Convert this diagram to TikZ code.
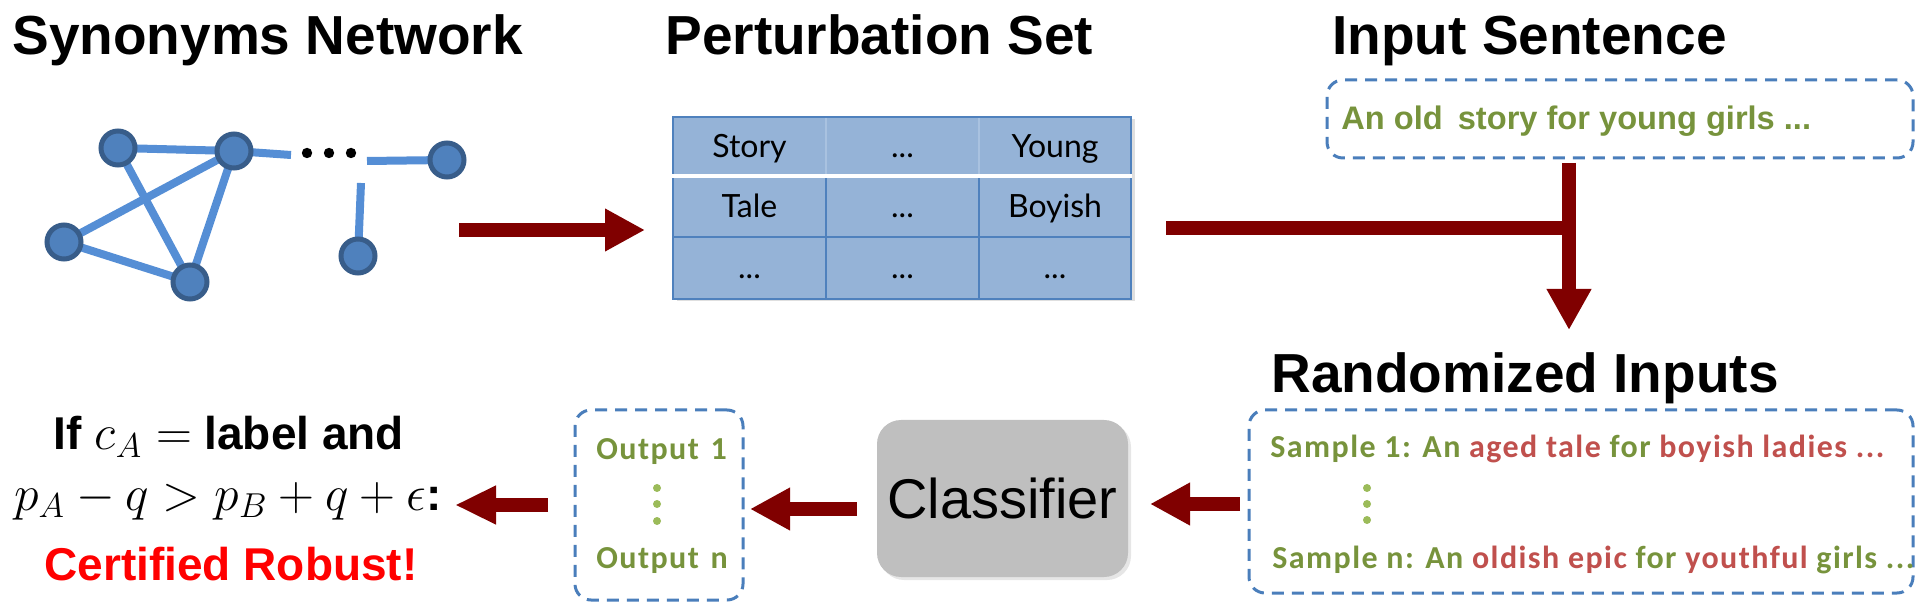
\documentclass[tikz,border=0pt]{standalone}
\usepackage{fontspec}
\setmainfont{Liberation Sans}
\newfontfamily\calfont[LetterSpace=4.5]{Carlito}
\newfontfamily\tabfont{Lato}
\usetikzlibrary{arrows.meta,shadows}
\definecolor{nfill}{HTML}{4F81BD}
\definecolor{nbord}{HTML}{385D8A}
\definecolor{nedge}{HTML}{558ED5}
\definecolor{tfill}{HTML}{95B3D7}
\definecolor{tline}{HTML}{4F81BD}
\definecolor{tfaint}{HTML}{A9C2E0}
\definecolor{dblue}{HTML}{4A7EBB}
\definecolor{tgreen}{HTML}{77933C}
\definecolor{tred}{HTML}{C0504D}
\definecolor{lgreen}{HTML}{9BBB59}
\definecolor{darr}{HTML}{800000}
\definecolor{cgray}{HTML}{BFBFBF}
\definecolor{cred}{HTML}{FF0000}
\newcommand{\myfs}[1]{\fontsize{#1}{#1}\selectfont}
\pgfdeclarelayer{bg}
\pgfsetlayers{bg,main}
\begin{document}
\begin{tikzpicture}[x=0.5pt,y=-0.5pt,
  title/.style={font=\myfs{27.5}\bfseries, inner sep=0pt, anchor=base west},
  gnode/.style={circle, fill=nfill, draw=nbord, line width=2.5pt, minimum size=17pt, inner sep=0pt},
  gedge/.style={nedge, line width=4pt},
  gdot/.style={circle, fill=black, minimum size=5.2pt, inner sep=0pt},
  cell/.style={font=\tabfont\myfs{16}, anchor=base, inner sep=0pt},
  dbox/.style={draw=dblue, dash pattern=on 6pt off 4pt, line width=1.5pt, rounded corners=8pt, inner sep=0pt},
  stxt/.style={font=\calfont\bfseries\myfs{16}, anchor=base west, inner sep=0pt, text=tgreen},
  vdot/.style={circle, fill=lgreen, minimum size=4pt, inner sep=0pt},
  bigline/.style={darr, line width=7pt},
  bigarrow/.style={darr, line width=7pt, -{Triangle[length=20pt,width=20pt]}},
  ftxt/.style={font=\myfs{23}\bfseries, inner sep=0pt, anchor=base}
]
\useasboundingbox (0,0) rectangle (1931,608);

% titles
\node[title] (t1) at (12,55) {Synonyms Network};
\node[title] (t2) at (665,55) {Perturbation Set};
\node[title] (t3) at (1332,55) {Input Sentence};
\node[title] (t4) at (1271,393) {Randomized Inputs};

% network
\node[gnode] (A) at (118,148) {};
\node[gnode] (B) at (234,151) {};
\node[gnode] (C) at (64,242) {};
\node[gnode] (D) at (190,282) {};
\node[gnode] (E) at (358,256) {};
\node[gnode] (F) at (447,160) {};
\coordinate (s1) at (291,155);
\coordinate (s2) at (367,161);
\coordinate (s3) at (361,183);
\node[gdot] (d1) at (307,153) {};
\node[gdot] (d2) at (329,153) {};
\node[gdot] (d3) at (351,153) {};
\begin{pgfonlayer}{bg}
\draw[gedge] (A.center) -- (B.center);
\draw[gedge] (A.center) -- (D.center);
\draw[gedge] (B.center) -- (C.center);
\draw[gedge] (B.center) -- (D.center);
\draw[gedge] (C.center) -- (D.center);
\draw[gedge] (B.center) -- (s1);
\draw[gedge] (s2) -- (F.center);
\draw[gedge] (E.center) -- (s3);
\end{pgfonlayer}

% arrow 1
\coordinate (a1s) at (459,230);
\coordinate (a1e) at (645,230);
\draw[bigarrow] (a1s) -- (a1e);

% table
\node[fill=tfill, draw=tline, line width=1pt, minimum width=229pt, minimum height=91pt, inner sep=0pt,
      drop shadow={opacity=0.25, shadow xshift=2pt, shadow yshift=-1pt}] (tbl) at (902,208) {};
\draw[tfaint, line width=0.6pt] (826,118) -- (826,175);
\draw[tfaint, line width=0.6pt] (979,118) -- (979,175);
\draw[tline, line width=1pt] (826,178) -- (826,298);
\draw[tline, line width=1pt] (979,178) -- (979,298);
\draw[tline, line width=1pt] (tbl.west |- 0,237) -- (tbl.east |- 0,237);
\draw[white, line width=2.2pt] (tbl.west |- 0,176) -- (tbl.east |- 0,176);
\node[cell] (c11) at (749.5,158) {Story};
\node[cell] (c12) at (902.5,158) {...};
\node[cell] (c13) at (1055,158) {Young};
\node[cell] (c21) at (749.5,218) {Tale};
\node[cell] (c22) at (902.5,218) {...};
\node[cell] (c23) at (1055,218) {Boyish};
\node[cell] (c31) at (749.5,279) {...};
\node[cell] (c32) at (902.5,279) {...};
\node[cell] (c33) at (1055,279) {...};

% input sentence
\node[dbox, minimum width=293pt, minimum height=39pt] (inbox) at (1620,119) {};
\node[font=\myfs{16.3}\bfseries, text=tgreen, anchor=base west, inner sep=0pt] (insent) at (1341,130) {An old\hspace{3pt} story for young girls ...};

% arrow 2
\coordinate (a2s) at (1166,228);
\coordinate (a2j) at (1569,228);
\coordinate (a2t) at (1569,163);
\coordinate (a2e) at (1569,330);
\draw[bigline] (a2s) -- (a2j);
\draw[darr, line width=7pt, -{Triangle[length=20.5pt,width=21pt]}] (a2t) -- (a2e);

% randomized inputs box
\node[dbox, minimum width=332pt, minimum height=91.5pt] (rbox) at (1581,501.5) {};
\node[stxt] (smp1) at (1270,458) {Sample 1: An \textcolor{tred}{aged tale} for \textcolor{tred}{boyish ladies ...}};
\node[stxt] (smpn) at (1272,568) {Sample n: An \textcolor{tred}{oldish epic} for \textcolor{tred}{youthful} girls ...};
\node[vdot] (rv1) at (1367,488) {};
\node[vdot] (rv2) at (1367,504) {};
\node[vdot] (rv3) at (1367,520) {};

% classifier
\node[fill=cgray, rounded corners=12pt, minimum width=125.5pt, minimum height=78.5pt, inner sep=0pt,
      drop shadow={opacity=0.2, shadow xshift=1.5pt, shadow yshift=-1.5pt},
      font=\myfs{28}] (cls) at (1002.5,498.5) {Classifier};

% arrow 3
\coordinate (a3s) at (1240,504);
\coordinate (a3e) at (1150,504);
\draw[bigarrow] (a3s) -- (a3e);

% output box
\node[dbox, minimum width=84pt, minimum height=95pt] (obox) at (659,505) {};
\node[stxt] (o1) at (596,460) {Output\hspace{1.5pt} 1};
\node[stxt] (on) at (596,568) {Output\hspace{1.5pt} n};
\node[vdot] (ov1) at (657,488) {};
\node[vdot] (ov2) at (657,504) {};
\node[vdot] (ov3) at (657,521) {};

% arrow 4
\coordinate (a4s) at (857,509);
\coordinate (a4e) at (750,509);
\draw[bigarrow] (a4s) -- (a4e);

% arrow 5
\coordinate (a5s) at (548,505);
\coordinate (a5e) at (455,505);
\draw[darr, line width=7pt, -{Triangle[length=20.5pt,width=18pt]}] (a5s) -- (a5e);

% formula
\node[ftxt] (f1) at (229,450) {If $c_A =$ label and};
\node[ftxt] (f2) at (228,510) {$p_A - q > p_B + q + \epsilon$:};
\node[ftxt, text=cred] (f3) at (231,580) {Certified Robust!};
\end{tikzpicture}
\end{document}
